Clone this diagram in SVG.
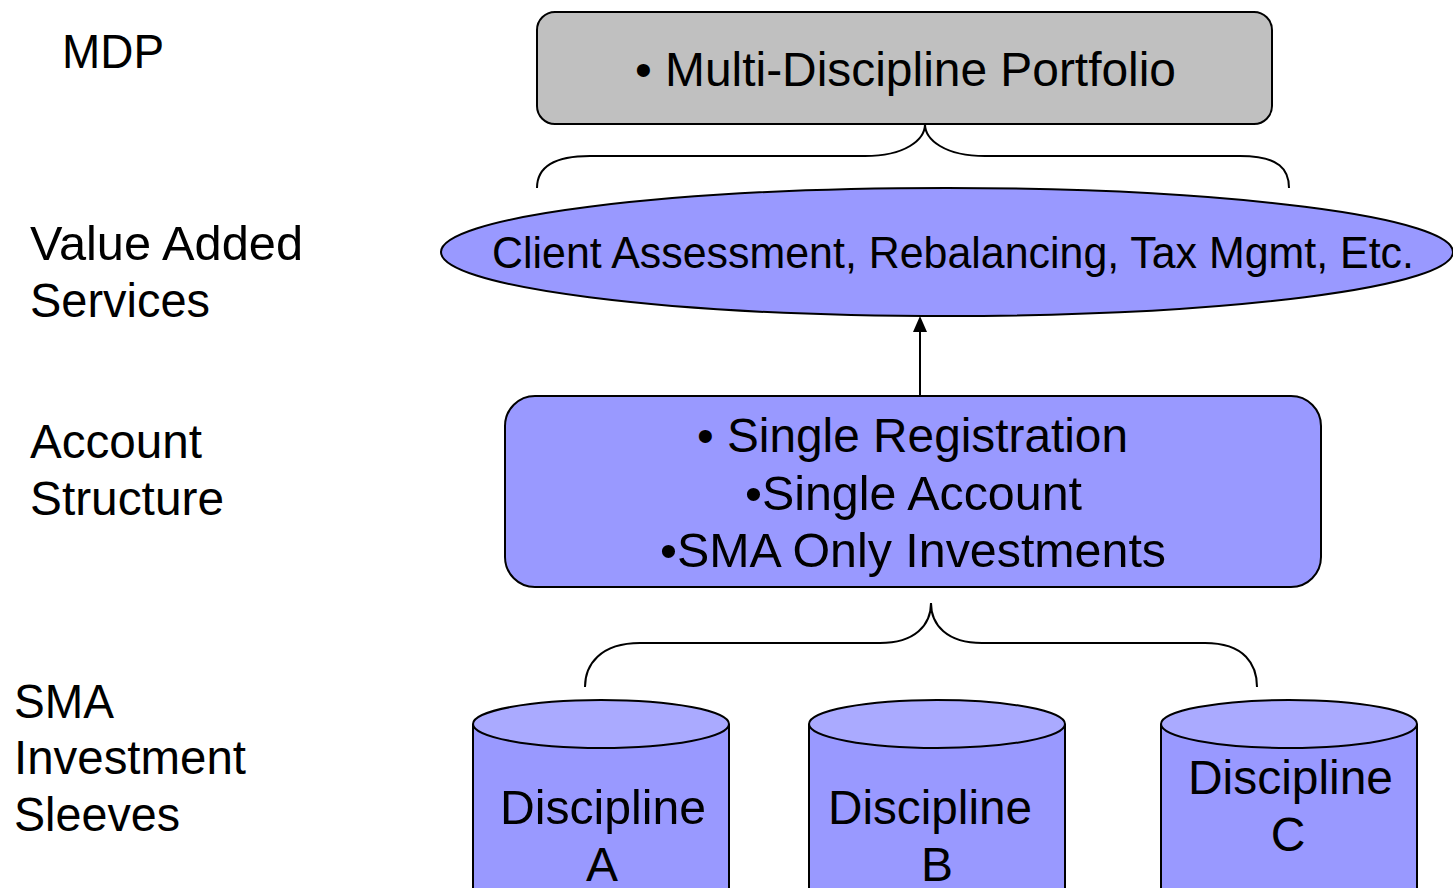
<svg xmlns="http://www.w3.org/2000/svg" width="1453" height="888" viewBox="0 0 1453 888">
<defs>
<style>
text{font-family:"Liberation Sans",Arial,sans-serif;font-size:48px;fill:#000}
.c{text-anchor:middle}
.shape{stroke:#000;stroke-width:2}
.brace{fill:none;stroke:#000;stroke-width:2}
</style>
</defs>
<rect width="1453" height="888" fill="#fff"/>
<g id="labels">
<text x="62" y="68" textLength="102" lengthAdjust="spacingAndGlyphs">MDP</text>
<text x="30" y="260" textLength="273" lengthAdjust="spacingAndGlyphs">Value Added</text>
<text x="30" y="317" textLength="180" lengthAdjust="spacingAndGlyphs">Services</text>
<text x="30" y="458" textLength="172" lengthAdjust="spacingAndGlyphs">Account</text>
<text x="30" y="515" textLength="194" lengthAdjust="spacingAndGlyphs">Structure</text>
<text x="14" y="718" textLength="100" lengthAdjust="spacingAndGlyphs">SMA</text>
<text x="14" y="774" textLength="232" lengthAdjust="spacingAndGlyphs">Investment</text>
<text x="14" y="831" textLength="166" lengthAdjust="spacingAndGlyphs">Sleeves</text>
</g>
<g id="connectors">
<path class="brace" d="M537,188 C537,170 550,156 590,156 L865,156 C905,156 925,140 925,124 C925,140 945,156 985,156 L1240,156 C1280,156 1289,170 1289,188"/>
<path class="brace" d="M585,687 C585,665 600,643 640,643 L880,643 C915,643 931,625 931,603 C931,625 947,643 982,643 L1205,643 C1245,643 1257,665 1257,687"/>
<line x1="920" y1="395" x2="920" y2="330" stroke="#000" stroke-width="2"/>
<polygon points="920,316 913,332 927,332" fill="#000"/>
</g>
<g id="mdp">
<rect class="shape" x="537" y="12" width="735" height="112" rx="18" fill="#c0c0c0"/>
<text x="635" y="86" textLength="541" lengthAdjust="spacingAndGlyphs">• Multi-Discipline Portfolio</text>
</g>
<g id="services">
<ellipse class="shape" cx="947" cy="252" rx="506" ry="64" fill="#9999ff"/>
<text x="492" y="268" style="font-size:45px" textLength="922" lengthAdjust="spacingAndGlyphs">Client Assessment, Rebalancing, Tax Mgmt, Etc.</text>
</g>
<g id="account">
<rect class="shape" x="505" y="396" width="816" height="191" rx="30" fill="#9999ff"/>
<text x="697" y="452" textLength="431" lengthAdjust="spacingAndGlyphs">• Single Registration</text>
<text x="745" y="510" textLength="337" lengthAdjust="spacingAndGlyphs">•Single Account</text>
<text x="660" y="567" textLength="506" lengthAdjust="spacingAndGlyphs">•SMA Only Investments</text>
</g>
<g id="disciplineA">
<path class="shape" d="M473,724 L473,890 L729,890 L729,724" fill="#9999ff"/>
<ellipse class="shape" cx="601" cy="724" rx="128" ry="24" fill="#aaaaff"/>
<text x="500" y="824" textLength="206" lengthAdjust="spacingAndGlyphs">Discipline</text>
<text class="c" x="602" y="881">A</text>
</g>
<g id="disciplineB">
<path class="shape" d="M809,724 L809,890 L1065,890 L1065,724" fill="#9999ff"/>
<ellipse class="shape" cx="937" cy="724" rx="128" ry="24" fill="#aaaaff"/>
<text x="828" y="824" textLength="204" lengthAdjust="spacingAndGlyphs">Discipline</text>
<text class="c" x="937" y="881">B</text>
</g>
<g id="disciplineC">
<path class="shape" d="M1161,724 L1161,890 L1417,890 L1417,724" fill="#9999ff"/>
<ellipse class="shape" cx="1289" cy="724" rx="128" ry="24" fill="#aaaaff"/>
<text x="1188" y="794" textLength="205" lengthAdjust="spacingAndGlyphs">Discipline</text>
<text class="c" x="1288" y="851">C</text>
</g>
</svg>
